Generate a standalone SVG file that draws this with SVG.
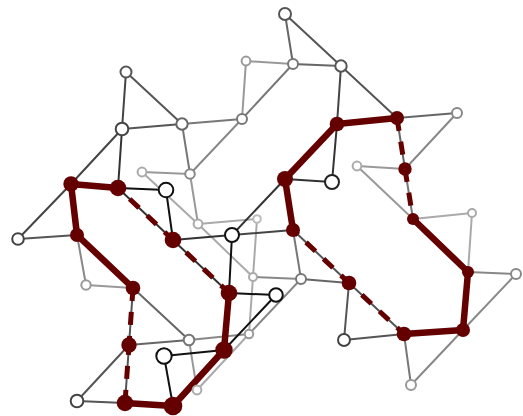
<svg xmlns="http://www.w3.org/2000/svg" width="523" height="416" viewBox="0 0 523 416">
<style>
.e{stroke-width:2;fill:none;stroke-linecap:round}
.c1{stroke:#111}.c2{stroke:#333}.c3{stroke:#444}.c4{stroke:#555}.c5{stroke:#666}.c6{stroke:#777}.c7{stroke:#888}.c8{stroke:#999}.c9{stroke:#aaa}
.rs{stroke:#650000;stroke-width:6.5;fill:none;stroke-linecap:round}
.rd{stroke:#650000;stroke-width:5;fill:none;stroke-dasharray:13 11}
.h{fill:#fff;stroke-width:2}
.r{fill:#650000}
</style>
<rect width="523" height="416" fill="#fff"/>
<g id="connectors">
<line class="e c5" x1="285" y1="14" x2="293" y2="64"/>
<line class="e c4" x1="285" y1="14" x2="341" y2="66"/>
<line class="e c8" x1="246" y1="61" x2="293" y2="64"/>
<line class="e c5" x1="293" y1="64" x2="341" y2="66"/>
<line class="e c8" x1="246" y1="61" x2="242" y2="119"/>
<line class="e c6" x1="293" y1="64" x2="242" y2="119"/>
<line class="e c3" x1="341" y1="66" x2="337" y2="124"/>
<line class="e c4" x1="341" y1="66" x2="397" y2="118"/>
<line class="e c5" x1="397" y1="118" x2="457" y2="113"/>
<line class="e c7" x1="457" y1="113" x2="405" y2="169"/>
<line class="e c8" x1="357" y1="166" x2="405" y2="169"/>
<line class="e c8" x1="357" y1="166" x2="413" y2="219"/>
<line class="e c9" x1="413" y1="219" x2="472" y2="213"/>
<line class="e c9" x1="472" y1="213" x2="468" y2="272"/>
<line class="e c7" x1="468" y1="272" x2="516" y2="274"/>
<line class="e c7" x1="516" y1="274" x2="463" y2="330"/>
<line class="e c7" x1="463" y1="330" x2="411" y2="385"/>
<line class="e c6" x1="404" y1="334" x2="411" y2="385"/>
<line class="e c4" x1="404" y1="334" x2="344" y2="340"/>
<line class="e c4" x1="344" y1="340" x2="349" y2="283"/>
<line class="e c6" x1="293" y1="230" x2="301" y2="279"/>
<line class="e c5" x1="301" y1="279" x2="349" y2="283"/>
<line class="e c7" x1="301" y1="279" x2="253" y2="277"/>
<line class="e c7" x1="301" y1="279" x2="249" y2="334"/>
<line class="e c9" x1="249" y1="334" x2="197" y2="390"/>
<line class="e c9" x1="253" y1="277" x2="249" y2="334"/>
<line class="e c9" x1="257" y1="219" x2="253" y2="277"/>
<line class="e c9" x1="198" y1="224" x2="257" y2="219"/>
<line class="e c9" x1="142" y1="172" x2="198" y2="224"/>
<line class="e c9" x1="198" y1="224" x2="253" y2="277"/>
<line class="e c8" x1="190" y1="174" x2="198" y2="224"/>
<line class="e c8" x1="142" y1="172" x2="190" y2="174"/>
<line class="e c7" x1="242" y1="119" x2="190" y2="174"/>
<line class="e c6" x1="182" y1="124" x2="190" y2="174"/>
<line class="e c6" x1="182" y1="124" x2="242" y2="119"/>
<line class="e c4" x1="126" y1="72" x2="182" y2="124"/>
<line class="e c4" x1="122" y1="129" x2="182" y2="124"/>
<line class="e c3" x1="122" y1="129" x2="126" y2="72"/>
<line class="e c3" x1="71" y1="184" x2="122" y2="129"/>
<line class="e c2" x1="118" y1="188" x2="122" y2="129"/>
<line class="e c3" x1="71" y1="184" x2="18" y2="239"/>
<line class="e c4" x1="18" y1="239" x2="77" y2="235"/>
<line class="e c7" x1="77" y1="235" x2="86" y2="285"/>
<line class="e c8" x1="86" y1="285" x2="133" y2="288"/>
<line class="e c5" x1="133" y1="288" x2="189" y2="340"/>
<line class="e c5" x1="129" y1="345" x2="189" y2="340"/>
<line class="e c7" x1="189" y1="340" x2="249" y2="334"/>
<line class="e c8" x1="189" y1="340" x2="197" y2="390"/>
<line class="e c4" x1="77" y1="401" x2="125" y2="403"/>
<line class="e c4" x1="77" y1="401" x2="129" y2="345"/>
<line class="e c1" x1="164" y1="356" x2="224" y2="350"/>
<line class="e c1" x1="164" y1="356" x2="173" y2="406"/>
<line class="e c1" x1="276" y1="295" x2="224" y2="350"/>
<line class="e c1" x1="229" y1="293" x2="276" y2="295"/>
<line class="e c1" x1="232" y1="235" x2="229" y2="293"/>
<line class="e c3" x1="232" y1="235" x2="293" y2="230"/>
<line class="e c2" x1="232" y1="235" x2="285" y2="179"/>
<line class="e c2" x1="173" y1="240" x2="232" y2="235"/>
<line class="e c1" x1="166" y1="190" x2="173" y2="240"/>
<line class="e c1" x1="118" y1="188" x2="166" y2="190"/>
<line class="e c2" x1="285" y1="179" x2="332" y2="182"/>
<line class="e c2" x1="337" y1="124" x2="332" y2="182"/>
<line class="e c2" x1="118" y1="188" x2="173" y2="240"/>
<line class="e c2" x1="173" y1="240" x2="229" y2="293"/>
<line class="e c4" x1="293" y1="230" x2="349" y2="283"/>
<line class="e c4" x1="349" y1="283" x2="404" y2="334"/>
<line class="e c5" x1="397" y1="118" x2="405" y2="169"/>
<line class="e c6" x1="405" y1="169" x2="413" y2="219"/>
<line class="e c4" x1="133" y1="288" x2="129" y2="345"/>
<line class="e c4" x1="129" y1="345" x2="125" y2="403"/>
<line class="rs" x1="71" y1="184" x2="118" y2="188"/>
<line class="rs" x1="71" y1="184" x2="77" y2="235"/>
<line class="rs" x1="77" y1="235" x2="133" y2="288"/>
<line class="rs" x1="229" y1="293" x2="224" y2="350"/>
<line class="rs" x1="224" y1="350" x2="173" y2="406"/>
<line class="rs" x1="173" y1="406" x2="125" y2="403"/>
<line class="rs" x1="285" y1="179" x2="293" y2="230"/>
<line class="rs" x1="285" y1="179" x2="337" y2="124"/>
<line class="rs" x1="337" y1="124" x2="397" y2="118"/>
<line class="rs" x1="413" y1="219" x2="468" y2="272"/>
<line class="rs" x1="468" y1="272" x2="463" y2="330"/>
<line class="rs" x1="463" y1="330" x2="404" y2="334"/>
<line class="rd" x1="118" y1="188" x2="173" y2="240" stroke-dashoffset="8"/>
<line class="rd" x1="173" y1="240" x2="229" y2="293" stroke-dashoffset="6"/>
<line class="rd" x1="293" y1="230" x2="349" y2="283" stroke-dashoffset="6"/>
<line class="rd" x1="349" y1="283" x2="404" y2="334" stroke-dashoffset="6.5"/>
<line class="rd" x1="397" y1="118" x2="405" y2="169"/>
<line class="rd" x1="405" y1="169" x2="413" y2="219"/>
<line class="rd" x1="133" y1="288" x2="129" y2="345"/>
<line class="rd" x1="129" y1="345" x2="125" y2="403" stroke-dashoffset="3"/>
</g>
<g id="n-A"><circle class="h" cx="285" cy="14" r="6" stroke="#555"/></g>
<g id="n-B"><circle class="h" cx="293" cy="64" r="5" stroke="#777"/></g>
<g id="n-C"><circle class="h" cx="341" cy="66" r="5.7" stroke="#555"/></g>
<g id="n-D"><circle class="h" cx="246" cy="61" r="4.4" stroke="#999"/></g>
<g id="n-E"><circle class="h" cx="242" cy="119" r="5" stroke="#777"/></g>
<g id="n-F"><circle class="h" cx="126" cy="72" r="5.5" stroke="#555"/></g>
<g id="n-G"><circle class="h" cx="122" cy="129" r="6.3" stroke="#444"/></g>
<g id="n-H"><circle class="h" cx="182" cy="124" r="5.7" stroke="#666"/></g>
<g id="n-I"><circle class="h" cx="190" cy="174" r="4.8" stroke="#888"/></g>
<g id="n-J"><circle class="h" cx="142" cy="172" r="4.4" stroke="#aaa"/></g>
<g id="n-K"><circle class="h" cx="166" cy="190" r="7.3" stroke="#111"/></g>
<g id="n-L"><circle class="r" cx="71" cy="184" r="7.7"/></g>
<g id="n-M"><circle class="r" cx="118" cy="188" r="8.3"/></g>
<g id="n-N"><circle class="h" cx="18" cy="239" r="5.8" stroke="#444"/></g>
<g id="n-O"><circle class="r" cx="77" cy="235" r="7"/></g>
<g id="n-P"><circle class="r" cx="173" cy="240" r="8.3"/></g>
<g id="n-Q"><circle class="h" cx="198" cy="224" r="4.4" stroke="#aaa"/></g>
<g id="n-R"><circle class="h" cx="232" cy="235" r="7" stroke="#111"/></g>
<g id="n-S"><circle class="h" cx="257" cy="219" r="3.8" stroke="#bbb"/></g>
<g id="n-T"><circle class="r" cx="293" cy="230" r="7"/></g>
<g id="n-U"><circle class="r" cx="285" cy="179" r="8"/></g>
<g id="n-V"><circle class="h" cx="332" cy="182" r="7" stroke="#222"/></g>
<g id="n-W"><circle class="r" cx="337" cy="124" r="7.3"/></g>
<g id="n-X"><circle class="r" cx="397" cy="118" r="7"/></g>
<g id="n-Y"><circle class="h" cx="457" cy="113" r="5" stroke="#888"/></g>
<g id="n-Z"><circle class="r" cx="405" cy="169" r="6.7"/></g>
<g id="n-AA"><circle class="h" cx="357" cy="166" r="4.4" stroke="#aaa"/></g>
<g id="n-AB"><circle class="r" cx="413" cy="219" r="6"/></g>
<g id="n-AC"><circle class="h" cx="472" cy="213" r="4" stroke="#aaa"/></g>
<g id="n-AD"><circle class="r" cx="468" cy="272" r="6"/></g>
<g id="n-AE"><circle class="h" cx="516" cy="274" r="5" stroke="#888"/></g>
<g id="n-AF"><circle class="r" cx="463" cy="330" r="7"/></g>
<g id="n-AG"><circle class="r" cx="404" cy="334" r="7.3"/></g>
<g id="n-AH"><circle class="h" cx="411" cy="385" r="5" stroke="#999"/></g>
<g id="n-AI"><circle class="h" cx="344" cy="340" r="6" stroke="#444"/></g>
<g id="n-AJ"><circle class="r" cx="349" cy="283" r="7.3"/></g>
<g id="n-AK"><circle class="h" cx="301" cy="279" r="5" stroke="#777"/></g>
<g id="n-AL"><circle class="h" cx="253" cy="277" r="4" stroke="#aaa"/></g>
<g id="n-AM"><circle class="r" cx="229" cy="293" r="8.3"/></g>
<g id="n-AN"><circle class="h" cx="276" cy="295" r="6.8" stroke="#111"/></g>
<g id="n-AO"><circle class="h" cx="249" cy="334" r="4.2" stroke="#999"/></g>
<g id="n-AP"><circle class="r" cx="224" cy="350" r="8.7"/></g>
<g id="n-AQ"><circle class="h" cx="189" cy="340" r="5.3" stroke="#777"/></g>
<g id="n-AR"><circle class="h" cx="164" cy="356" r="7.7" stroke="#111"/></g>
<g id="n-AS"><circle class="h" cx="197" cy="390" r="4.4" stroke="#aaa"/></g>
<g id="n-AT"><circle class="r" cx="173" cy="406" r="9.3"/></g>
<g id="n-AU"><circle class="r" cx="125" cy="403" r="8.3"/></g>
<g id="n-AV"><circle class="h" cx="77" cy="401" r="6.3" stroke="#444"/></g>
<g id="n-AW"><circle class="r" cx="129" cy="345" r="7.7"/></g>
<g id="n-AX"><circle class="r" cx="133" cy="288" r="7.3"/></g>
<g id="n-AY"><circle class="h" cx="86" cy="285" r="4.7" stroke="#999"/></g>
</svg>
